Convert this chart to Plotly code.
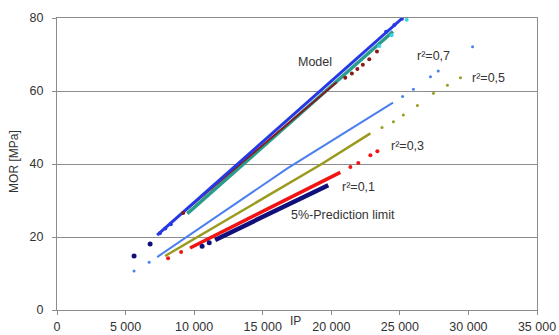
import plotly.graph_objects as go

# ---------------- data ----------------
# Model (several overlapping series)
model_blue_x = [7300, 25200]
model_blue_y = [20.5, 80.0]
model_teal_x = [9500, 24500]
model_teal_y = [26.4, 76.3]
model_red_x = [8100, 20400]
model_red_y = [23.2, 62.4]
model_red_dots_x = [9200, 21020, 21500, 21900, 22300, 22770, 23330]
model_red_dots_y = [26.6, 63.6, 64.8, 66.0, 67.2, 68.7, 70.8]
model_navy_dots_x = [5620, 6790]
model_navy_dots_y = [14.8, 18.1]
model_blue_dots_x = [7500, 7900, 8300, 24000, 24600, 25150]
model_blue_dots_y = [21.0, 22.3, 23.5, 76.2, 78.1, 79.8]
model_cyan_dots_x = [23500, 24400, 25500]
model_cyan_dots_y = [72.3, 75.3, 79.5]

# r2 = 0,7 (light blue)
r07_x = [7300, 16800, 24500]
r07_y = [14.5, 38.8, 56.8]
r07_dots_x = [5620, 6720, 25200, 25990, 27230, 27800, 30300]
r07_dots_y = [10.7, 13.1, 58.5, 60.5, 63.9, 65.5, 72.1]

# r2 = 0,5 (olive)
r05_x = [7880, 19300, 22850]
r05_y = [14.8, 40.0, 48.4]
r05_dots_x = [23700, 24530, 25250, 26280, 27450, 28470, 29420]
r05_dots_y = [50.0, 51.6, 53.4, 56.0, 59.4, 61.6, 63.6]

# r2 = 0,3 (red)
r03_x = [9700, 20660]
r03_y = [17.0, 37.7]
r03_dots_x = [8100, 9050, 21390, 21970, 22850, 23360]
r03_dots_y = [14.2, 15.9, 39.2, 40.3, 42.4, 43.5]

# r2 = 0,1 / 5%-prediction limit (navy)
r01_x = [11530, 19780]
r01_y = [19.2, 34.2]
r01_dots_x = [10580, 11100]
r01_dots_y = [17.5, 18.4]

x_ticks = [0, 5000, 10000, 15000, 20000, 25000, 30000, 35000]
x_tick_labels = ["0", "5 000", "10 000", "15 000", "20 000", "25 000", "30 000", "35 000"]
y_ticks = [0, 20, 40, 60, 80]

labels = ["Model", "r²=0,7", "r²=0,5", "r²=0,3", "r²=0,1", "5%-Prediction limit"]
label_x = [18810, 27420, 31430, 25590, 21950, 20860]
label_y = [68.0, 69.6, 63.6, 44.9, 33.7, 26.0]

NAVY = "#10107a"
BLUE = "#2638e6"
TEAL = "#2a9c8c"
DRED = "#8a1a1a"
CYAN = "#3cd2e6"
LBLUE = "#4a7ff0"
OLIVE = "#9a9a1e"
RED = "#f01414"

fig = go.Figure()

def line(x, y, color, w):
    fig.add_trace(go.Scatter(x=x, y=y, mode="lines", line=dict(color=color, width=w),
                             showlegend=False, hoverinfo="skip"))

def dots(x, y, color, s):
    fig.add_trace(go.Scatter(x=x, y=y, mode="markers", marker=dict(color=color, size=s),
                             showlegend=False, hoverinfo="skip"))

# lower series
line(r07_x, r07_y, LBLUE, 2)
dots(r07_dots_x, r07_dots_y, LBLUE, 3)
line(r05_x, r05_y, OLIVE, 2.5)
dots(r05_dots_x, r05_dots_y, OLIVE, 3)
line(r03_x, r03_y, RED, 3.5)
dots(r03_dots_x, r03_dots_y, RED, 4)
line(r01_x, r01_y, NAVY, 4.5)
dots(r01_dots_x, r01_dots_y, NAVY, 5)

# model series
line(model_teal_x, model_teal_y, TEAL, 3.5)
line(model_red_x, model_red_y, DRED, 2)
line(model_blue_x, model_blue_y, BLUE, 3)
dots(model_red_dots_x, model_red_dots_y, DRED, 4)
dots(model_navy_dots_x, model_navy_dots_y, NAVY, 5)
dots(model_blue_dots_x, model_blue_dots_y, BLUE, 4)
dots(model_cyan_dots_x, model_cyan_dots_y, CYAN, 4)

FONT = "Liberation Sans, Arial"
for t, x, y in zip(labels, label_x, label_y):
    fig.add_annotation(x=x, y=y, text=t, showarrow=False,
                       font=dict(family=FONT, size=12.5, color="#333333"))

fig.add_annotation(xref="paper", yref="paper", x=0.497, y=-0.068, text="IP", showarrow=False,
                   font=dict(family=FONT, size=12, color="#333333"))
fig.add_annotation(xref="paper", yref="paper", x=-0.09, y=0.51, text="MOR [MPa]",
                   textangle=-90, showarrow=False, xanchor="center", yanchor="middle",
                   font=dict(family=FONT, size=12, color="#333333"))

GRID = "#8c8c8c"
fig.update_layout(
    width=559, height=335,
    margin=dict(l=57, r=22, t=18, b=25),
    paper_bgcolor="white", plot_bgcolor="white",
    font=dict(family=FONT, size=12.5, color="#333333"),
    xaxis=dict(range=[0, 35000], tickvals=x_ticks, ticktext=x_tick_labels,
               showgrid=False, zeroline=False, showline=True, linecolor=GRID, linewidth=1,
               mirror=True, ticks="outside", ticklen=4, tickcolor=GRID,
               ticklabelstandoff=1, tickfont=dict(size=12.5), automargin=False),
    yaxis=dict(range=[0, 80], tickvals=y_ticks,
               showgrid=True, gridcolor=GRID, gridwidth=1, zeroline=False,
               showline=True, linecolor=GRID, linewidth=1, mirror=True,
               ticks="outside", ticklen=4, tickcolor=GRID, ticklabelstandoff=6,
               tickfont=dict(size=12.5), automargin=False),
)

fig.write_html("out.html")
